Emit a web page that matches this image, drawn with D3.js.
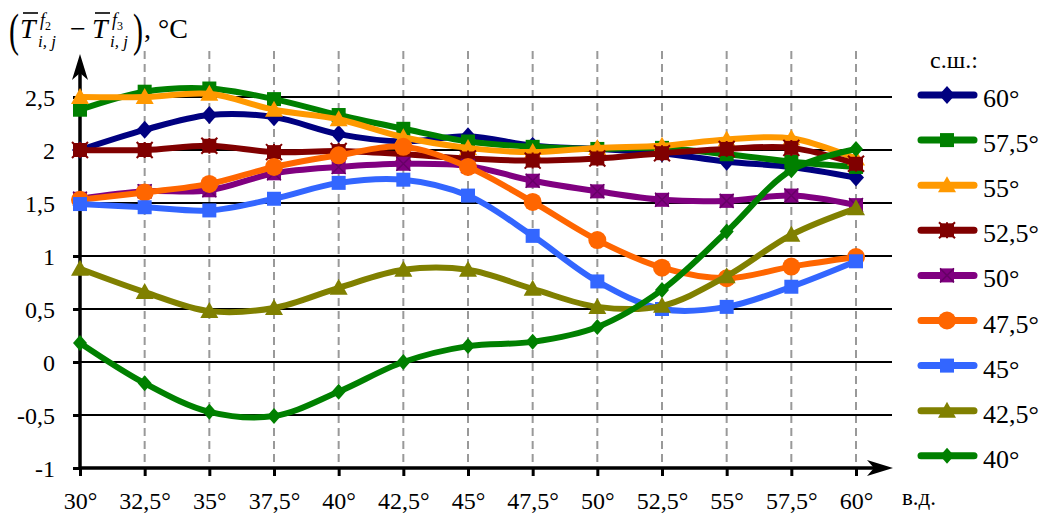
<!DOCTYPE html>
<html>
<head>
<meta charset="utf-8">
<script src="https://cdn.jsdelivr.net/npm/d3@7"></script>
<style>
  html, body { margin: 0; padding: 0; background: #fff; }
  svg { display: block; }
  svg text { font-family: "Liberation Serif", "Times New Roman", serif; }
</style>
</head>
<body>
<svg id="chart" width="1046" height="515"></svg>
<script>
// Longitudes (east), degrees
const longitudes = [30, 32.5, 35, 37.5, 40, 42.5, 45, 47.5, 50, 52.5, 55, 57.5, 60];

// Temperature difference per latitude band (north), °C
const lat60   = [2.00, 2.19, 2.33, 2.31, 2.15, 2.08, 2.13, 2.04, 2.01, 1.97, 1.89, 1.84, 1.74];
const lat57_5 = [2.38, 2.55, 2.58, 2.48, 2.33, 2.20, 2.08, 2.03, 2.01, 2.02, 1.96, 1.89, 1.84];
const lat55   = [2.50, 2.50, 2.53, 2.38, 2.29, 2.12, 2.02, 1.98, 2.02, 2.04, 2.10, 2.11, 1.92];
const lat52_5 = [2.00, 2.00, 2.04, 1.98, 1.99, 1.96, 1.92, 1.90, 1.92, 1.97, 2.01, 2.02, 1.87];
const lat50   = [1.54, 1.61, 1.62, 1.78, 1.84, 1.87, 1.85, 1.71, 1.61, 1.53, 1.52, 1.57, 1.48];
const lat47_5 = [1.53, 1.60, 1.68, 1.84, 1.95, 2.03, 1.84, 1.51, 1.15, 0.89, 0.79, 0.90, 0.99];
const lat45   = [1.49, 1.46, 1.43, 1.54, 1.69, 1.72, 1.57, 1.19, 0.76, 0.50, 0.52, 0.71, 0.95];
const lat42_5 = [0.88, 0.66, 0.48, 0.51, 0.70, 0.87, 0.87, 0.69, 0.52, 0.53, 0.81, 1.20, 1.45];
const lat40   = [0.18, -0.20, -0.47, -0.51, -0.28, 0.00, 0.15, 0.19, 0.33, 0.68, 1.23, 1.81, 2.01];

const seriesNames = ["60°", "57,5°", "55°", "52,5°", "50°", "47,5°", "45°", "42,5°", "40°"];
const seriesValues = [lat60, lat57_5, lat55, lat52_5, lat50, lat47_5, lat45, lat42_5, lat40];
const seriesColors = ["#000080", "#008000", "#FF9900", "#800000", "#800080", "#FF6600", "#3366FF", "#808000", "#008000"];
const seriesMarkers = ["diamond", "square", "triangle", "star", "cross", "circle", "square", "triangle", "diamondSmall"];

const yTicks = [-1, -0.5, 0, 0.5, 1, 1.5, 2, 2.5];

const SERIF = '"Liberation Serif", "Times New Roman", serif';
const svg = d3.select("#chart");
const ruLocale = d3.formatLocale({ decimal: ",", thousands: " ", grouping: [3], currency: ["", ""], minus: "-" });
const fmt = ruLocale.format("~g");

const x = d3.scaleLinear().domain([30, 60]).range([80, 856]);
const y = d3.scaleLinear().domain([-1, 2.5]).range([468, 97]);

const plotRight = 893;
const plotTop = 51;

// Vertical dashed grid
svg.append("g")
  .selectAll("line")
  .data(longitudes.slice(1))
  .join("line")
  .attr("x1", d => x(d)).attr("x2", d => x(d))
  .attr("y1", plotTop).attr("y2", y(-1))
  .attr("stroke", "#999").attr("stroke-width", 2)
  .attr("stroke-dasharray", "8,5");

// Horizontal grid
svg.append("g")
  .selectAll("line")
  .data(yTicks.filter(d => d > -1))
  .join("line")
  .attr("x1", x(30)).attr("x2", plotRight - 1)
  .attr("y1", d => y(d)).attr("y2", d => y(d))
  .attr("stroke", "#000").attr("stroke-width", 2);

// Y axis
const yAxis = d3.axisLeft(y).tickValues(yTicks).tickSize(7).tickPadding(18).tickFormat(fmt);
const gy = svg.append("g").attr("transform", `translate(${x(30)},0)`).call(yAxis);
gy.attr("font-family", null).attr("font-size", null);
gy.select(".domain").remove();
gy.selectAll(".tick line").attr("stroke", "#000").attr("stroke-width", 3);
gy.selectAll(".tick text").style("font-size", "24px").style("font-family", SERIF).attr("fill", "#000").attr("dy", "0.36em");

// X axis
const xAxis = d3.axisBottom(x).tickValues(longitudes).tickSize(8).tickPadding(16).tickFormat(d => fmt(d) + "°");
const gx = svg.append("g").attr("transform", `translate(0,${y(-1)})`).call(xAxis);
gx.attr("font-family", null).attr("font-size", null);
gx.select(".domain").remove();
gx.selectAll(".tick line").attr("stroke", "#000").attr("stroke-width", 3);
gx.selectAll(".tick text").style("font-size", "24px").style("font-family", SERIF).attr("fill", "#000");

// Axis lines with arrows
const axisStroke = 3.5;
svg.append("line").attr("x1", x(30)).attr("x2", plotRight - 12)
  .attr("y1", y(-1)).attr("y2", y(-1)).attr("stroke", "#000").attr("stroke-width", axisStroke);
svg.append("path")
  .attr("d", `M${plotRight},${y(-1)} L${plotRight - 26},${y(-1) - 8} L${plotRight - 19},${y(-1)} L${plotRight - 26},${y(-1) + 8} Z`)
  .attr("fill", "#000");
svg.append("line").attr("x1", x(30)).attr("x2", x(30))
  .attr("y1", y(-1) + 1).attr("y2", 70).attr("stroke", "#000").attr("stroke-width", axisStroke);
svg.append("path")
  .attr("d", `M${x(30)},54 L${x(30) - 8},80 L${x(30)},73 L${x(30) + 8},80 Z`)
  .attr("fill", "#000");

svg.append("text").attr("x", 902).attr("y", 505).style("font-size", "23px").text("в.д.");

// Marker drawing
function drawMarker(g, type, color, cx, cy) {
  const m = g.append("g").attr("transform", `translate(${cx},${cy})`);
  switch (type) {
    case "diamond":
      m.append("path").attr("d", "M0,-9 L8,0 L0,9 L-8,0 Z").attr("fill", color); break;
    case "diamondSmall":
      m.append("path").attr("d", "M0,-8 L7,0 L0,8 L-7,0 Z").attr("fill", color); break;
    case "square":
      m.append("rect").attr("x", -7).attr("y", -7).attr("width", 14).attr("height", 14).attr("fill", color); break;
    case "triangle":
      m.append("path").attr("d", "M0,-9 L9,7 L-9,7 Z").attr("fill", color); break;
    case "circle":
      m.append("circle").attr("r", 9).attr("fill", color); break;
    case "star":
      m.append("rect").attr("x", -7).attr("y", -7).attr("width", 14).attr("height", 14).attr("fill", color);
      m.append("path").attr("d", "M-8,-8 L8,8 M8,-8 L-8,8 M0,-8 L0,8").attr("stroke", color).attr("stroke-width", 2); break;
    case "cross":
      m.append("rect").attr("x", -7).attr("y", -7).attr("width", 14).attr("height", 14).attr("fill", color);
      m.append("path").attr("d", "M-7,-7 L7,7 M7,-7 L-7,7").attr("stroke", d3.color(color).darker(0.6)).attr("stroke-width", 1.5); break;
  }
}

// Series lines, drawn so that the southern bands lie on top
const line = d3.line().x((d, i) => x(longitudes[i])).y(d => y(d)).curve(d3.curveCatmullRom.alpha(0.5));
const seriesG = svg.append("g");
seriesValues.forEach((vals, k) => {
  const g = seriesG.append("g");
  g.append("path").datum(vals).attr("d", line)
    .attr("fill", "none").attr("stroke", seriesColors[k]).attr("stroke-width", 6)
    .attr("stroke-linejoin", "round").attr("stroke-linecap", "round");
  vals.forEach((v, i) => drawMarker(g, seriesMarkers[k], seriesColors[k], x(longitudes[i]), y(v)));
});

// Legend
svg.append("text").attr("x", 930).attr("y", 68).style("font-size", "24px").text("с.ш.:");
const legend = svg.append("g");
seriesNames.forEach((name, k) => {
  const cy = 95 + k * 45.1;
  const g = legend.append("g");
  g.append("line").attr("x1", 921).attr("x2", 974).attr("y1", cy).attr("y2", cy)
    .attr("stroke", seriesColors[k]).attr("stroke-width", 7).attr("stroke-linecap", "round");
  drawMarker(g, seriesMarkers[k], seriesColors[k], 947, cy);
  g.append("text").attr("x", 983).attr("y", cy + 12).style("font-size", "26px").text(name);
});

// Y-axis title: (T̄_{i,j}^{f2} − T̄_{i,j}^{f3}), °C
const title = svg.append("g").attr("fill", "#000");
title.append("text").attr("transform", "translate(9,46) scale(1,1.55)").style("font-size", "30px").text("(");
title.append("text").attr("transform", "translate(133,46) scale(1,1.55)").style("font-size", "30px").text(")");
function termT(x0, sup) {
  title.append("text").attr("x", x0).attr("y", 38).style("font-size", "28px").style("font-style", "italic").text("T");
  title.append("line").attr("x1", x0 + 3).attr("x2", x0 + 18).attr("y1", 13).attr("y2", 13)
    .attr("stroke", "#000").attr("stroke-width", 1.6);
  const s = title.append("text").attr("x", x0 + 20).attr("y", 26).style("font-size", "18px");
  s.append("tspan").style("font-style", "italic").text("f");
  s.append("tspan").style("font-size", "12px").attr("dy", 4).text(sup);
  title.append("text").attr("x", x0 + 18).attr("y", 47).style("font-size", "17px").style("font-style", "italic").text("i, j");
}
termT(20, "2");
title.append("text").attr("x", 70).attr("y", 38).style("font-size", "28px").text("−");
termT(92, "3");
title.append("text").attr("x", 144).attr("y", 38).style("font-size", "28px").text(", °C");
</script>
</body>
</html>
